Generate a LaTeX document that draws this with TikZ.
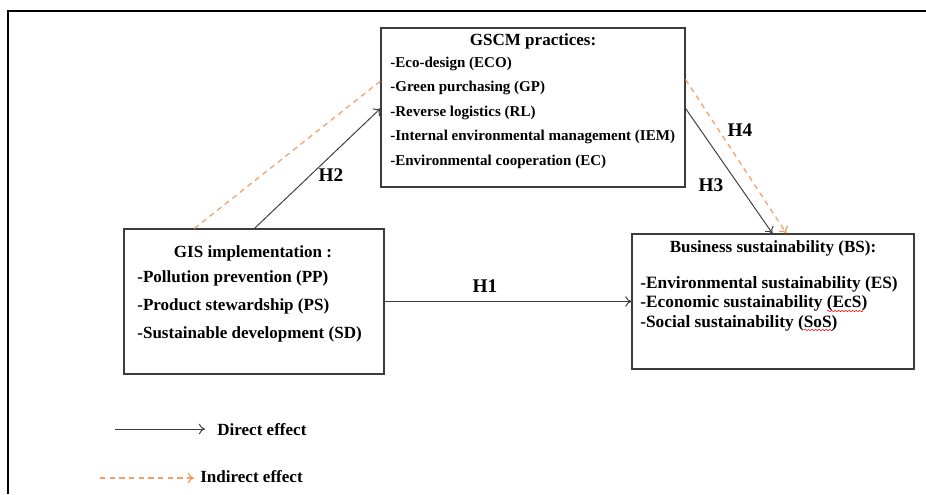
\documentclass[tikz,border=0pt]{standalone}
\usepackage{fontspec}
\setmainfont{Liberation Serif}
\usetikzlibrary{calc,arrows.meta,decorations.pathmorphing}
\definecolor{indirectorange}{RGB}{242,158,100}
\definecolor{boxgray}{RGB}{60,60,60}
\tikzset{
  varbox/.style={draw=boxgray, line width=0.65pt, inner sep=0pt},
  boxtext/.style={font=\bfseries\fontsize{9.7}{12}\selectfont, inner sep=0pt, anchor=base west},
  boxtitle/.style={font=\bfseries\fontsize{9.7}{12}\selectfont, inner sep=0pt, anchor=base},
  hlabel/.style={font=\bfseries\fontsize{11}{13}\selectfont, inner sep=0pt, anchor=base},
  direct/.style={draw=boxgray, line width=0.55pt, -{To[length=3.5pt,width=6pt]}},
  indirect/.style={draw=indirectorange, line width=0.7pt, dash pattern=on 3pt off 2.5pt},
  spellmark/.style={draw=red, line width=0.3pt, decorate, decoration={snake, amplitude=0.4pt, segment length=2pt}}
}
\begin{document}
\begin{tikzpicture}[x=0.02cm, y=-0.02cm]
\useasboundingbox (0,0) rectangle (926,494);

% Outer frame (cut off at the right and the bottom)
\draw[line width=1.3pt] (8,494) -- (8,11) -- (926,11);

% Boxes
\node[varbox, minimum width=6.08cm, minimum height=3.18cm] (gscm) at (533,107.5) {};
\node[varbox, minimum width=5.2cm, minimum height=2.9cm] (gis) at (254,301.5) {};
\node[varbox, minimum width=5.64cm, minimum height=2.7cm] (bs) at (773,301.5) {};

% Text of the GSCM box
\node[boxtitle] (gscmtitle) at (533,45) {GSCM practices:};
\foreach \item [count=\i] in {-Eco-design (ECO), -Green purchasing (GP), -Reverse logistics (RL),
    -Internal environmental management (IEM), -Environmental cooperation (EC)}
  \node[boxtext, font=\bfseries\fontsize{8.55}{10}\selectfont] (gscm\i) at (390,{67+(\i-1)*24.5}) {\item};

% Text of the GIS box
\node[boxtitle] (gistitle) at (253,257) {GIS implementation :};
\foreach \item [count=\i] in {-Pollution prevention (PP), -Product stewardship (PS),
    -Sustainable development (SD)}
  \node[boxtext] (gis\i) at (137,{282+(\i-1)*28}) {\item};

% Text of the BS box
\node[boxtitle] (bstitle) at (773,252) {Business sustainability (BS):};
\foreach \item [count=\i] in {-Environmental sustainability (ES), -Economic sustainability (EcS),
    -Social sustainability (SoS)}
  \node[boxtext, font=\bfseries\fontsize{9.85}{12}\selectfont] (bs\i) at (640,{288+(\i-1)*19.5}) {\item};
\draw[spellmark] (827,311) -- (863,311);
\draw[spellmark] (804,330) -- (833,330);

% Hypotheses
\draw[indirect] ($(gis.north west)+(71,0)$) -- ($(gscm.north west)+(2,52)$);
\draw[direct] ($(gis.north west)+(131,0)$) -- ($(gscm.north west)+(0,81)$);
\draw[direct] (gis.east) -- (gis.east -| bs.west);
\draw[direct] ($(gscm.north east)+(0,81)$) -- ($(bs.north west)+(141,0)$);
\draw[indirect, -{To[length=3.5pt,width=6pt]}] ($(gscm.north east)+(0,52)$) -- ($(bs.north west)+(155,0)$);
\node[hlabel] (h1) at (485,292) {H1};
\node[hlabel] (h2) at (331,181) {H2};
\node[hlabel] (h3) at (711,191) {H3};
\node[hlabel] (h4) at (740,136) {H4};

% Legend
\coordinate (dstart) at (115,429);
\coordinate (istart) at (100,478);
\node[boxtext] (dlabel) at (217,435) {Direct effect};
\node[boxtext] (ilabel) at (200,482) {Indirect effect};
\draw[direct] (dstart) -- ($(dlabel.base west)+(-12,-6)$);
\draw[indirect, -{To[length=3.5pt,width=6pt]}] (istart) -- ($(ilabel.base west)+(-6,-4)$);
\end{tikzpicture}
\end{document}
